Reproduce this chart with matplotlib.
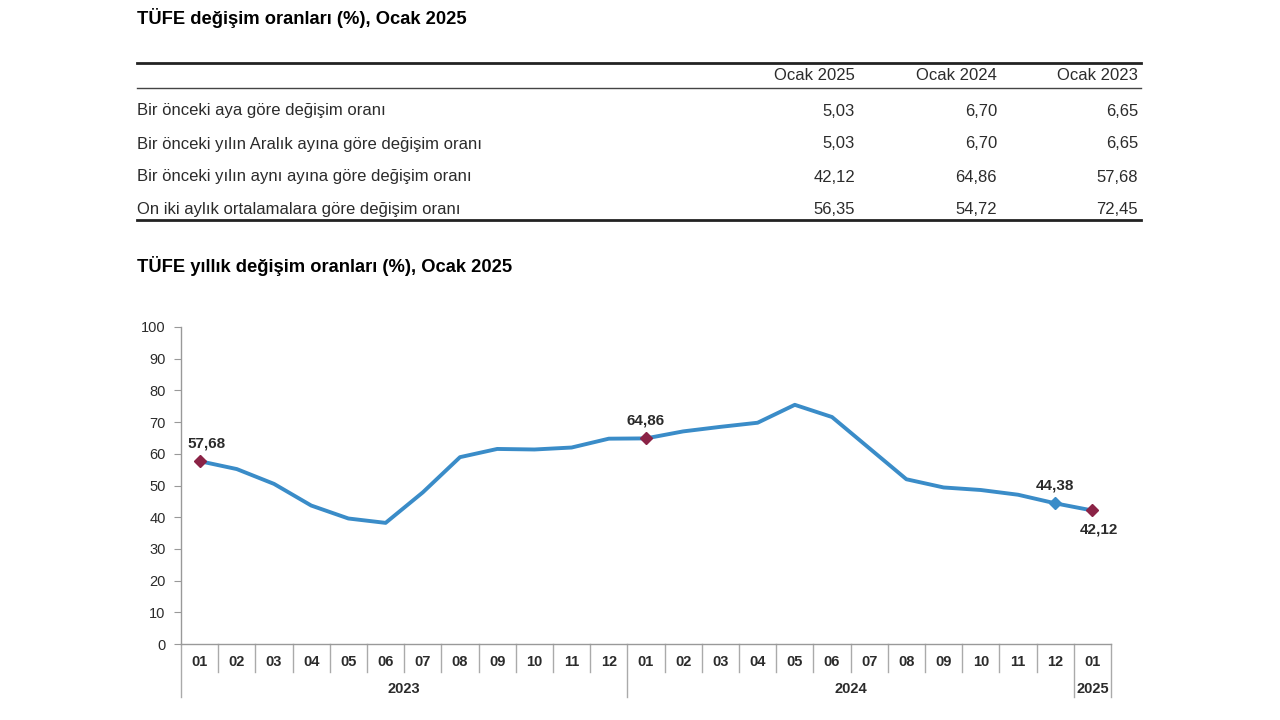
import matplotlib
matplotlib.use("Agg")
import matplotlib.pyplot as plt
from matplotlib.lines import Line2D

plt.rcParams['font.family'] = ['Liberation Sans', 'DejaVu Sans']

# ---- data ----
title_table = "TÜFE değişim oranları (%), Ocak 2025"
title_chart = "TÜFE yıllık değişim oranları (%), Ocak 2025"
table_cols = ["Ocak 2025", "Ocak 2024", "Ocak 2023"]
table_rows = [
    "Bir önceki aya göre değişim oranı",
    "Bir önceki yılın Aralık ayına göre değişim oranı",
    "Bir önceki yılın aynı ayına göre değişim oranı",
    "On iki aylık ortalamalara göre değişim oranı",
]
table_vals = [
    ["5,03", "6,70", "6,65"],
    ["5,03", "6,70", "6,65"],
    ["42,12", "64,86", "57,68"],
    ["56,35", "54,72", "72,45"],
]
months = ["01", "02", "03", "04", "05", "06", "07", "08", "09", "10", "11", "12",
          "01", "02", "03", "04", "05", "06", "07", "08", "09", "10", "11", "12",
          "01"]
years = ["2023", "2024", "2025"]
year_counts = [12, 12, 1]
annual = [57.68, 55.18, 50.51, 43.68, 39.59, 38.21, 47.83, 58.94, 61.53, 61.36, 61.98, 64.77,
          64.86, 67.07, 68.50, 69.80, 75.45, 71.60, 61.78, 51.97, 49.38, 48.58, 47.09, 44.38,
          42.12]
red_idx = [0, 12, 24]
blue_idx = [23]
label_idx = [0, 12, 23, 24]

W, H = 1280, 720
fig = plt.figure(figsize=(12.8, 7.2), dpi=100)
fig.patch.set_facecolor("white")

def fx(px):
    return px / W

def fy(py):
    return 1 - py / H

txt_color = "#2b2b2b"
tbl_fs = 12
title_fs = 13.2

# ---- table ----
fig.text(fx(137), fy(18), title_table, fontsize=title_fs, fontweight="bold",
         color="black", va="center", ha="left")
fig.add_artist(Line2D([fx(137), fx(1141)], [fy(63), fy(63)], color="#222222", lw=2.0))
fig.add_artist(Line2D([fx(137), fx(1141)], [fy(88), fy(88)], color="#444444", lw=1.0))
fig.add_artist(Line2D([fx(137), fx(1141)], [fy(220), fy(220)], color="#222222", lw=2.0))
col_right = [855, 997, 1138]
for c, name in enumerate(table_cols):
    fig.text(fx(col_right[c]), fy(76), name, fontsize=tbl_fs, color=txt_color,
             ha="right", va="center")
row_y = [111, 144, 177, 209]
for r, name in enumerate(table_rows):
    fig.text(fx(137), fy(row_y[r]), name, fontsize=tbl_fs, color=txt_color,
             ha="left", va="center")
    for c in range(3):
        fig.text(fx(col_right[c]), fy(row_y[r]), table_vals[r][c], fontsize=tbl_fs,
                 color=txt_color, ha="right", va="center")

# ---- chart ----
fig.text(fx(137), fy(266), title_chart, fontsize=title_fs, fontweight="bold",
         color="black", va="center", ha="left")

ax_left, ax_right, ax_top, ax_bot = 181, 1111, 327, 644
ax = fig.add_axes([fx(ax_left), fy(ax_bot), fx(ax_right - ax_left), (ax_bot - ax_top) / H])
n = len(annual)
x = list(range(n))
ax.plot(x, annual, color="#3a8cc8", lw=2.8, solid_joinstyle="round", zorder=3)
ax.plot([x[i] for i in red_idx], [annual[i] for i in red_idx], linestyle="none",
        marker="D", ms=6.5, color="#8b2346", zorder=4)
ax.plot([x[i] for i in blue_idx], [annual[i] for i in blue_idx], linestyle="none",
        marker="D", ms=6.5, color="#3a8cc8", zorder=4)
for i in label_idx:
    s = f"{annual[i]:.2f}".replace(".", ",")
    if i == 24:
        ax.annotate(s, (x[i], annual[i]), xytext=(5, -14), textcoords="offset points",
                    ha="center", va="center", fontsize=11, fontweight="bold", color=txt_color)
    else:
        ax.annotate(s, (x[i], annual[i]), xytext=(5 if i == 0 else 0, 13),
                    textcoords="offset points", ha="center", va="center",
                    fontsize=11, fontweight="bold", color=txt_color)

ax.set_xlim(-0.5, n - 0.5)
ax.set_ylim(0, 100)
ax.set_yticks(range(0, 101, 10))
ax.tick_params(axis="y", direction="out", length=5, color="#999999", labelsize=10.5,
               labelcolor=txt_color, pad=6)
ax.set_xticks([])
for s in ["top", "right"]:
    ax.spines[s].set_visible(False)
ax.spines["left"].set_color("#999999")
ax.spines["bottom"].set_color("#999999")
ax.spines["left"].set_linewidth(1.0)
ax.spines["bottom"].set_linewidth(1.0)

# category axis drawn in axes-x / figure-y blended coords
trans = matplotlib.transforms.blended_transform_factory(ax.transData, fig.transFigure)
year_bounds = [-0.5]
acc = -0.5
for cnt in year_counts:
    acc += cnt
    year_bounds.append(acc)
for k in range(n + 1):
    xb = k - 0.5
    if xb in year_bounds:
        y_end = 697
    else:
        y_end = 672
    ax.add_artist(Line2D([xb, xb], [fy(ax_bot), fy(y_end)], transform=trans,
                         color="#aaaaaa", lw=1.0, clip_on=False))
for i, m in enumerate(months):
    ax.text(i, fy(662), m, transform=trans, ha="center", va="center",
            fontsize=10.5, fontweight="bold", color=txt_color)
for j, yname in enumerate(years):
    mid = (year_bounds[j] + year_bounds[j + 1]) / 2
    ax.text(mid, fy(689), yname, transform=trans, ha="center", va="center",
            fontsize=10.5, fontweight="bold", color=txt_color)

fig.savefig("out.png", dpi=100, facecolor="white")
